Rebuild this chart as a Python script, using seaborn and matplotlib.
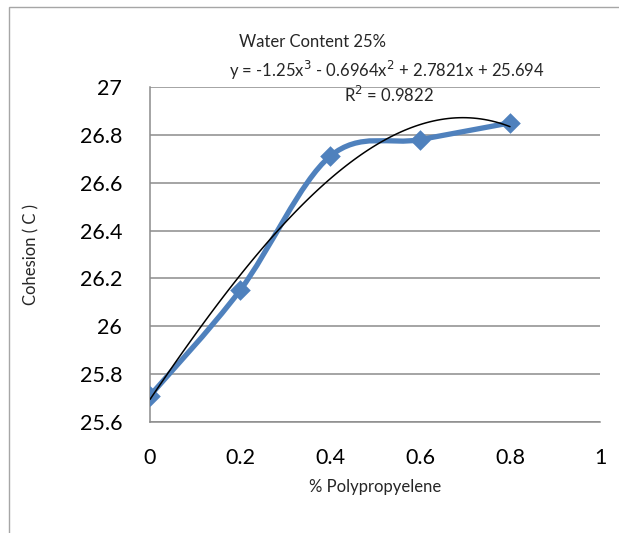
import numpy as np
import pandas as pd
import matplotlib
matplotlib.use("Agg")
import matplotlib.pyplot as plt
import seaborn as sns
from matplotlib.path import Path
from matplotlib.patches import PathPatch, Rectangle

# data
polypropylene = [0.0, 0.2, 0.4, 0.6, 0.8]
cohesion = [25.71, 26.15, 26.71, 26.78, 26.85]
x_ticks = [0, 0.2, 0.4, 0.6, 0.8, 1]
y_ticks = [25.6, 25.8, 26.0, 26.2, 26.4, 26.6, 26.8, 27.0]
y_tick_labels = ["25.6", "25.8", "26", "26.2", "26.4", "26.6", "26.8", "27"]

BLUE = "#4F81BD"
GRID = "#8C8C8C"

sns.set_theme(style="white")
plt.rcParams["font.family"] = ["Lato", "DejaVu Sans"]

df = pd.DataFrame({"pp": polypropylene, "c": cohesion})

fig = plt.figure(figsize=(6.19, 5.33), dpi=100)
ax = fig.add_axes([150 / 619, 1 - 422 / 533, 450 / 619, 335 / 533])

# outer chart frame (cut off at right/bottom as in the original)
fig.patches.append(Rectangle((9 / 619, -0.1), 1.2, 1 - 7 / 533 + 0.1, transform=fig.transFigure,
                             fill=False, edgecolor="#A6A6A6", linewidth=1.0))

# smoothed series line (Catmull-Rom style bezier like Excel's smoothed line)
pts = np.column_stack([polypropylene, cohesion])
verts, codes = [tuple(pts[0])], [Path.MOVETO]
for i in range(len(pts) - 1):
    p0 = pts[max(i - 1, 0)]
    p1, p2 = pts[i], pts[i + 1]
    p3 = pts[min(i + 2, len(pts) - 1)]
    c1 = p1 + (p2 - p0) / 6
    c2 = p2 - (p3 - p1) / 6
    verts += [tuple(c1), tuple(c2), tuple(p2)]
    codes += [Path.CURVE4] * 3
ax.add_patch(PathPatch(Path(verts, codes), facecolor="none", edgecolor=BLUE,
                       linewidth=3.8, capstyle="round", joinstyle="round", zorder=3))

sns.scatterplot(data=df, x="pp", y="c", marker="D", s=110, color=BLUE,
                edgecolor=BLUE, linewidth=0, ax=ax, zorder=4)

# 3rd order polynomial trendline
sns.regplot(data=df, x="pp", y="c", order=3, ci=None, scatter=False, truncate=True,
            line_kws={"color": "black", "linewidth": 1.1, "zorder": 5}, ax=ax)

ax.set_xlim(0, 1)
ax.set_ylim(25.6, 27)
ax.set_xticks(x_ticks)
ax.set_xticklabels(["0", "0.2", "0.4", "0.6", "0.8", "1"])
ax.set_yticks(y_ticks)
ax.set_yticklabels(y_tick_labels)
ax.tick_params(axis="both", labelsize=15.5, length=0, colors="black")
ax.tick_params(axis="x", pad=19)
ax.tick_params(axis="y", pad=20)
ax.yaxis.grid(True, color=GRID, linewidth=1.1)
ax.xaxis.grid(False)
for side in ["top", "right"]:
    ax.spines[side].set_visible(False)
for side in ["left", "bottom"]:
    ax.spines[side].set_color(GRID)
    ax.spines[side].set_linewidth(1.1)

ax.set_xlabel("% Polypropyelene", fontsize=12)
ax.set_ylabel("Cohesion ( C )", fontsize=12)
ax.xaxis.set_label_coords(0.5, -(487 - 422) / 335)
ax.yaxis.set_label_coords(-(150 - 31) / 450, 0.5)
ax.xaxis.label.set_va("center")
ax.yaxis.label.set_va("center")

fig.text(312 / 619, 1 - 42 / 533, "Water Content 25%", fontsize=12, ha="center", va="center")
fig.text(387 / 619, 1 - 70 / 533, "y = -1.25x$^3$ - 0.6964x$^2$ + 2.7821x + 25.694",
         fontsize=12, ha="center", va="center")
fig.text(389 / 619, 1 - 95 / 533, "R$^2$ = 0.9822", fontsize=12, ha="center", va="center")

fig.savefig("out.png", dpi=100)
